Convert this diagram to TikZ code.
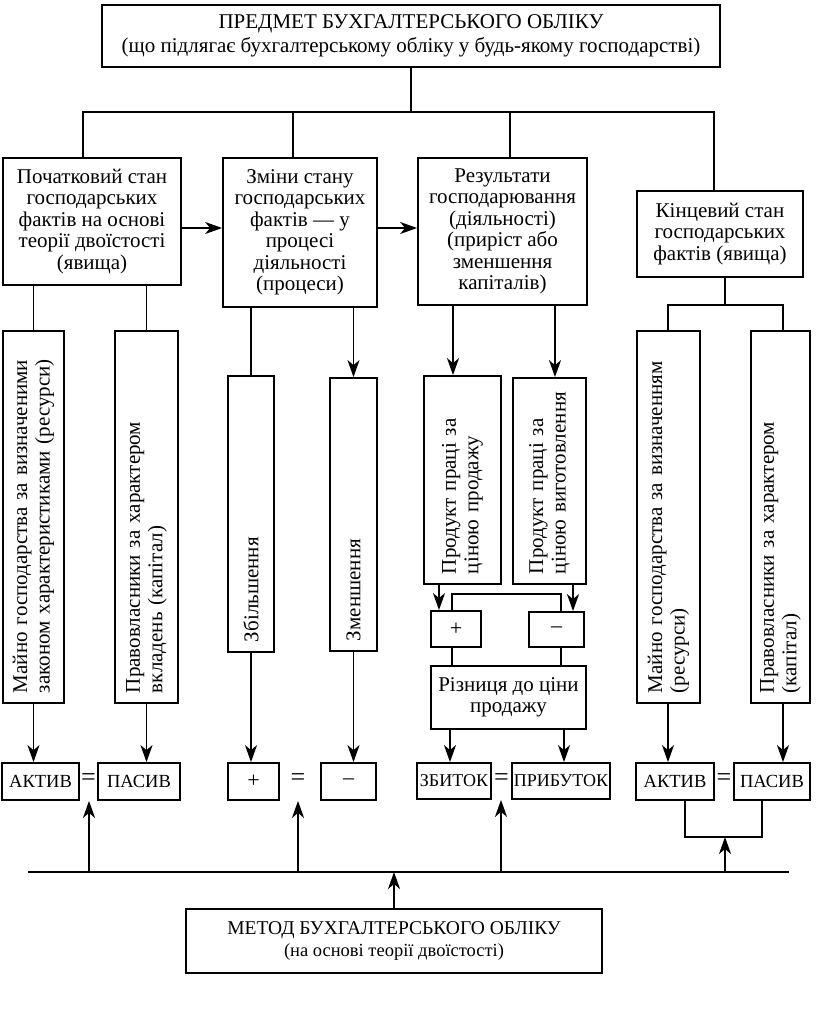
\documentclass[tikz,border=0pt]{standalone}
\usepackage{fontspec}
\setmainfont{Liberation Serif}
\usetikzlibrary{arrows.meta}
\begin{document}
\begin{tikzpicture}[x=1pt,y=-1pt,
  every node/.style={font=\fontsize{21}{21.5}\selectfont},
  box/.style={draw, line width=1.8pt, inner sep=0pt, align=center},
  small/.style={box, font=\fontsize{18.5}{20}\selectfont, minimum height=37pt},
  pm/.style={box, font=\fontsize{22}{22}\selectfont},
  vbox/.style={draw, line width=1.8pt, rotate=90, inner xsep=10pt, inner ysep=0pt, align=left, font=\fontsize{21}{22.5}\selectfont},
  ln/.style={line width=1.8pt},
  arr/.style={line width=1.8pt, -{Stealth[length=17pt,width=12pt,inset=5pt]}},
  eq/.style={inner sep=0pt, font=\fontsize{26}{26}\selectfont}
]
\useasboundingbox (0,0) rectangle (816,1009);

% top
\node[box, minimum width=618pt, minimum height=62pt, font=\fontsize{21}{24}\selectfont] (top) at (411,36)
  {ПРЕДМЕТ БУХГАЛТЕРСЬКОГО ОБЛІКУ\\(що підлягає бухгалтерському обліку у будь-якому господарстві)};

% level 2
\node[box, minimum width=178pt, minimum height=127pt] (b1) at (92,221.5)
  {Початковий стан\\господарських\\фактів на основі\\теорії двоїстості\\(явища)};
\node[box, minimum width=154pt, minimum height=149pt] (b2) at (300,232.5)
  {Зміни стану\\господарських\\фактів — у\\процесі\\діяльності\\(процеси)};
\node[box, minimum width=169pt, minimum height=147pt] (b3) at (502.5,231.5)
  {Результати\\господарювання\\(діяльності)\\(приріст або\\зменшення\\капіталів)};
\node[box, minimum width=166pt, minimum height=86pt] (b4) at (720,234)
  {Кінцевий стан\\господарських\\фактів (явища)};

% vertical boxes
\node[vbox, minimum width=372pt, minimum height=61pt, text width=352pt] (v1) at (33.5,517)
  {\makebox[335pt][s]{Майно господарства за визначеними}\\\makebox[335pt][s]{законом характеристиками (ресурси)}};
\node[vbox, minimum width=372pt, minimum height=63pt, text width=352pt] (v2) at (146.5,517)
  {\makebox[273pt][s]{Правовласники за характером}\\вкладень (капітал)};
\node[vbox, minimum width=276pt, minimum height=46pt, text width=256pt] (v3) at (251,514)
  {Збільшення};
\node[vbox, minimum width=273pt, minimum height=47pt, text width=253pt] (v4) at (353.5,514.5)
  {Зменшення};
\node[vbox, minimum width=208pt, minimum height=77pt, text width=188pt] (v5) at (462.5,480)
  {Продукт праці за\\ціною продажу};
\node[vbox, minimum width=206pt, minimum height=73pt, text width=186pt] (v6) at (549.5,481)
  {Продукт праці за\\ціною виготовлення};
\node[vbox, minimum width=372pt, minimum height=63pt, text width=352pt] (v7) at (668.5,517)
  {\makebox[333pt][s]{Майно господарства за визначенням}\\(ресурси)};
\node[vbox, minimum width=372pt, minimum height=59pt, text width=352pt] (v8) at (780.5,517)
  {\makebox[273pt][s]{Правовласники за характером}\\(капітал)};

% plus / minus / difference
\node[pm, minimum width=50pt, minimum height=36pt] (pl2) at (456,629) {+};
\node[pm, minimum width=55pt, minimum height=35pt] (mi2) at (556.5,629.5) {–};
\node[box, minimum width=155pt, minimum height=63pt] (rz) at (508.5,697.5) {Різниця до ціни\\продажу};

% bottom row
\node[small, minimum width=77pt] (ak1) at (40.5,781.5) {АКТИВ};
\node[eq] (eq1) at (88.5,780) {=};
\node[small, minimum width=82pt] (pa1) at (139,781.5) {ПАСИВ};
\node[pm, minimum width=51pt, minimum height=37pt] (pl1) at (253.5,781.5) {+};
\node[eq] (eq2) at (298,780) {=};
\node[pm, minimum width=55pt, minimum height=37pt] (mi1) at (348.5,781.5) {–};
\node[small, minimum width=74pt, minimum height=36pt, font=\fontsize{18}{20}\selectfont] (zb) at (454,781) {ЗБИТОК};
\node[eq] (eq3) at (501.5,780) {=};
\node[small, minimum width=98pt, minimum height=36pt, font=\fontsize{18}{20}\selectfont] (pr) at (561,781) {ПРИБУТОК};
\node[small, minimum width=78pt] (ak2) at (675,781.5) {АКТИВ};
\node[eq] (eq4) at (724,780) {=};
\node[small, minimum width=76pt] (pa2) at (772,781.5) {ПАСИВ};

% method
\node[box, minimum width=416pt, minimum height=64pt] (me) at (394,941)
  {{\fontsize{19.5}{22}\selectfont МЕТОД БУХГАЛТЕРСЬКОГО ОБЛІКУ}\\{\fontsize{18.5}{22}\selectfont (на основі теорії двоїстості)}};

% top bus
\coordinate (jL) at (83,112);
\coordinate (j2) at (293,112);
\coordinate (j3) at (510,112);
\coordinate (jR) at (714,112);
\draw[ln] (top.south) -- (top.south |- jL);
\draw[ln] (jL |- b1.north) -- (jL) -- (jR) -- (jR |- b4.north);
\draw[ln] (j2) -- (j2 |- b2.north);
\draw[ln] (j3) -- (j3 |- b3.north);

% horizontal arrows
\coordinate (ya) at (0,228);
\draw[arr] (b1.east |- ya) -- (b2.west |- ya);
\draw[arr] (b2.east |- ya) -- (b3.west |- ya);

% column 1
\draw[ln] (v1.east |- b1.south) -- (v1.east);
\draw[ln] (v2.east |- b1.south) -- (v2.east);
\draw[arr] (v1.west) -- (v1.west |- ak1.north);
\draw[arr] (v2.west) -- (v2.west |- pa1.north);

% column 2
\draw[ln] (v3.east |- b2.south) -- (v3.east);
\draw[arr] (v4.east |- b2.south) -- (v4.east);
\draw[arr] (v3.west) -- (v3.west |- pl1.north);
\draw[arr] (v4.west) -- (v4.west |- mi1.north);

% column 3
\coordinate (c5) at (453,0);
\coordinate (c6) at (555,0);
\draw[arr] (c5 |- b3.south) -- (c5 |- v5.east);
\draw[arr] (c6 |- b3.south) -- (c6 |- v6.east);
\coordinate (d5) at (439,0);
\coordinate (d6) at (573,0);
\draw[arr] (d5 |- v5.west) -- (d5 |- pl2.north);
\draw[arr] (d6 |- v6.west) -- (d6 |- mi2.north);
\coordinate (e5) at (452,594);
\coordinate (e6) at (561,594);
\draw[ln] (e5 |- pl2.north) -- (e5) -- (e6) -- (e6 |- mi2.north);
\draw[ln] (e5 |- pl2.south) -- (e5 |- rz.north);
\draw[ln] (e6 |- mi2.south) -- (e6 |- rz.north);
\coordinate (f5) at (450,0);
\coordinate (f6) at (564,0);
\draw[arr] (f5 |- rz.south) -- (f5 |- zb.north);
\draw[arr] (f6 |- rz.south) -- (f6 |- pr.north);

% column 4
\coordinate (k) at (725,305);
\coordinate (kL) at (668,305);
\coordinate (kR) at (783,305);
\draw[ln] (k |- b4.south) -- (k);
\draw[ln] (kL |- v7.east) -- (kL) -- (kR) -- (kR |- v8.east);
\draw[arr] (kL |- v7.west) -- (kL |- ak2.north);
\draw[arr] (kR |- v8.west) -- (kR |- pa2.north);
\coordinate (g1) at (685,837);
\coordinate (g2) at (762,837);
\coordinate (g) at (725,837);
\draw[ln] (g1 |- ak2.south) -- (g1) -- (g2) -- (g2 |- pa2.south);

% bottom bus
\coordinate (bL) at (28,872);
\coordinate (bR) at (789,872);
\draw[ln] (bL) -- (bR);
\coordinate (u1) at (89,872);
\coordinate (u2) at (298,872);
\coordinate (u3) at (501,872);
\draw[arr] (u1) -- (u1 |- ak1.south);
\draw[arr] (u2) -- (u2 |- pl1.south);
\draw[arr] (u3) -- (u3 |- zb.south);
\draw[arr] (g |- bL) -- (g);
\draw[arr] (me.north) -- (me.north |- bL);
\end{tikzpicture}
\end{document}
